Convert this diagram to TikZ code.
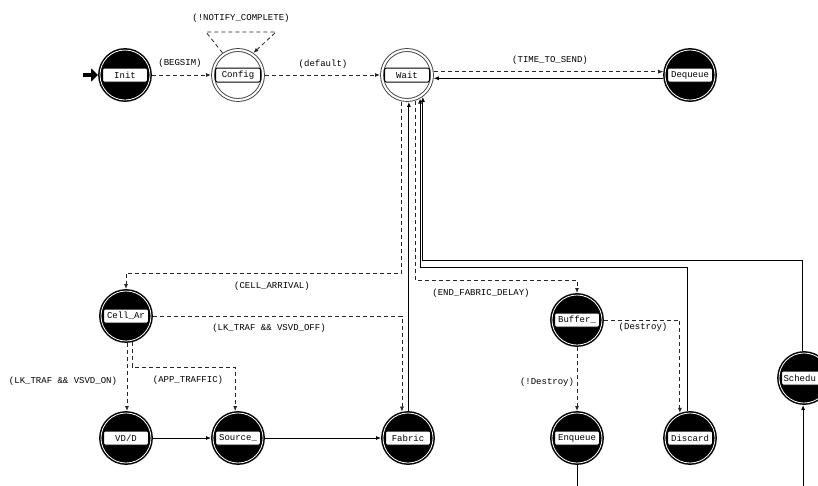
\documentclass[tikz,border=0pt]{standalone}
\usepackage{fontspec}
\setmonofont{Liberation Mono}
\usetikzlibrary{arrows.meta,calc}
\begin{document}
\begin{tikzpicture}[x=1pt,y=-1pt,
 blk/.style={circle,minimum size=50pt,inner sep=0pt,outer sep=2pt,fill=black,draw=black,line width=1.5pt,double=white,double distance=0.8pt},
 wht/.style={circle,minimum size=50pt,inner sep=0pt,outer sep=2pt,fill=white,draw=black!75,line width=0.9pt,double=white,double distance=2pt},
 box/.style={rectangle,rounded corners=1.5pt,draw=black,line width=1pt,fill=white,minimum width=45pt,minimum height=14pt,inner sep=0pt,font=\ttfamily\fontsize{9}{10}\selectfont},
 lab/.style={inner sep=0pt,font=\ttfamily\fontsize{9}{10}\selectfont},
 dsh/.style={draw=black!85,line width=0.8pt,dash pattern=on 4pt off 3pt,-{Latex[length=5pt,width=4pt]}},
 sld/.style={draw=black,line width=0.8pt,-{Latex[length=5pt,width=4pt]}},
 initarr/.style={line width=4.5pt,-{Triangle[length=7pt,width=13pt]}}
]
\fill[white] (0,0) rectangle (818,485);
\useasboundingbox (0,0) rectangle (818,485);

% states
\node[blk] (init) at (125,75) {};
\node[box] (initT) at (init) {Init};
\node[wht] (config) at (238,75) {};
\node[box] (configT) at (config) {Config};
\node[wht] (wait) at (407,75) {};
\node[box] (waitT) at (wait) {Wait};
\node[blk] (dequeue) at (690,75) {};
\node[box] (dequeueT) at (dequeue) {Dequeue};
\node[blk] (cellar) at (126,316) {};
\node[box] (cellarT) at (cellar) {Cell\_Ar};
\node[blk] (vdd) at (126,438) {};
\node[box] (vddT) at (vdd) {VD/D};
\node[blk] (source) at (238,438) {};
\node[box] (sourceT) at (source) {Source\_};
\node[blk] (fabric) at (408,438) {};
\node[box] (fabricT) at (fabric) {Fabric};
\node[blk] (buffer) at (577,320) {};
\node[box] (bufferT) at (buffer) {Buffer\_};
\node[blk] (enqueue) at (577,438) {};
\node[box] (enqueueT) at (enqueue) {Enqueue};
\node[blk] (discard) at (690,438) {};
\node[box] (discardT) at (discard) {Discard};
\node[blk] (sched) at (804,378) {};
\node[box,text width=41pt,align=left] (schedT) at (sched) {Schedu};

% initial arrow
\coordinate (start) at (83,75);
\draw[initarr] (start) -- (init.west);

% transitions
\draw[dsh] (init) -- (config);
\draw[dsh] (config.125) -- (206,32) -- (276,32) -- (config.55);
\draw[dsh] (config) -- (wait);
\draw[dsh] (wait.7) -- (dequeue.173);
\draw[sld] (dequeue.-173) -- (wait.-7);
\draw[dsh] (wait.-101) |- (cellar.north |- 0,273) -- (cellar.north);
\draw[sld] (fabric.north -| wait.-86) -- (wait.-86);
\draw[dsh] (wait.-73) |- (buffer.north |- 0,280) -- (buffer.north);
\draw[sld] (discard.96) |- (wait.-61 |- 0,267) -- (wait.-61);
\draw[sld] (sched.94) |- (wait.-54 |- 0,260) -- (wait.-54);
\draw[dsh] (cellar.east) -| (fabric.103);
\draw[dsh] (cellar.-88) -- (vdd.88);
\draw[dsh] (cellar.-77) |- (source.96 |- 0,367) -- (source.96);
\draw[sld] (vdd) -- (source);
\draw[sld] (source) -- (fabric);
\draw[dsh] (buffer) -- (enqueue);
\draw[dsh] (buffer.east) -| (discard.112);
\draw[sld] (enqueue.south) |- (sched.-92 |- 0,520) -- (sched.-92);

% labels
\node[lab] (lBeg) at (180,63) {(BEGSIM)};
\node[lab] (lNot) at (241,18) {(!NOTIFY\_COMPLETE)};
\node[lab] (lDef) at (323,64) {(default)};
\node[lab] (lTime) at (550,60) {(TIME\_TO\_SEND)};
\node[lab] (lCell) at (272,286) {(CELL\_ARRIVAL)};
\node[lab] (lOff) at (269,328) {(LK\_TRAF \&\& VSVD\_OFF)};
\node[lab] (lEnd) at (481,293) {(END\_FABRIC\_DELAY)};
\node[lab] (lOn) at (63,381) {(LK\_TRAF \&\& VSVD\_ON)};
\node[lab] (lApp) at (188,380) {(APP\_TRAFFIC)};
\node[lab] (lDes) at (643,327) {(Destroy)};
\node[lab] (lNDes) at (547,382) {(!Destroy)};
\end{tikzpicture}
\end{document}
